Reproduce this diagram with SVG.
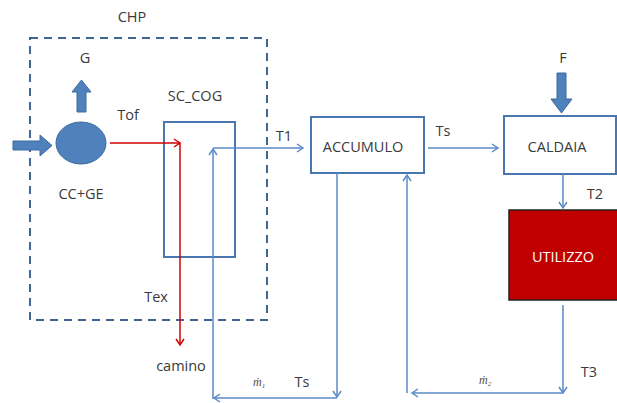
<svg xmlns="http://www.w3.org/2000/svg" width="617" height="403" viewBox="0 0 617 403">
<defs>
<marker id="ab" markerWidth="10" markerHeight="10" refX="8" refY="5" orient="auto" markerUnits="userSpaceOnUse">
<polyline points="2,1 8,5 2,9" fill="none" stroke="#5A8AC8" stroke-width="1.5"/>
</marker>
<marker id="ar" markerWidth="10" markerHeight="10" refX="8" refY="5" orient="auto" markerUnits="userSpaceOnUse">
<polyline points="2,1 8,5 2,9" fill="none" stroke="#D00000" stroke-width="1.5"/>
</marker>
<style>
.t{font-family:"Open Sans","Liberation Sans",sans-serif;font-size:14.5px;fill:#3A3A3A}
.box{fill:#fff;stroke:#4A76B0;stroke-width:2}
.c{fill:none;stroke:#5A8AC8;stroke-width:1.5}
.r{fill:none;stroke:#D00000;stroke-width:1.5}
.blk{fill:#4F81BD;stroke:#3D6A9E;stroke-width:1}
.m{font-family:"Liberation Serif",serif;font-style:italic;font-size:12px;fill:#505050}
</style>
</defs>
<rect width="617" height="403" fill="#fff"/>

<g id="chp">
<rect x="30" y="38" width="237" height="282" fill="none" stroke="#3F6592" stroke-width="2" stroke-dasharray="8,6"/>
<text class="t" x="132" y="22" text-anchor="middle">CHP</text>
</g>

<g id="ccge">
<ellipse cx="81" cy="143" rx="25" ry="21" fill="#4F81BD" stroke="#3D6A9E" stroke-width="1"/>
<text class="t" x="81" y="199" text-anchor="middle">CC+GE</text>
</g>

<g id="input">
<polygon class="blk" points="13,141 40,141 40,135 52,145.5 40,156 40,150 13,150"/>
</g>

<g id="G">
<polygon class="blk" points="77,112 77,92 72,92 81.5,80 91,92 86,92 86,112"/>
<text class="t" x="85" y="63" text-anchor="middle">G</text>
</g>

<g id="sc_cog">
<rect class="box" x="164" y="122" width="71" height="135" fill="none"/>
<text class="t" x="195" y="101" text-anchor="middle">SC_COG</text>
</g>

<g id="accumulo">
<rect class="box" x="311" y="117" width="113" height="56"/>
<text class="t" x="363" y="152" text-anchor="middle">ACCUMULO</text>
</g>

<g id="caldaia">
<rect class="box" x="504" y="116" width="112" height="58"/>
<text class="t" x="557" y="152" text-anchor="middle">CALDAIA</text>
</g>

<g id="F">
<polygon class="blk" points="557,73 566,73 566,99 572,99 561.5,113 551,99 557,99"/>
<text class="t" x="563" y="63" text-anchor="middle">F</text>
</g>

<g id="utilizzo">
<rect x="509" y="210" width="110" height="90" fill="#C00000" stroke="#222" stroke-width="1.5"/>
<text class="t" x="563" y="262" text-anchor="middle" style="fill:#fff">UTILIZZO</text>
</g>

<g id="connectors">
<line class="r" x1="110" y1="143" x2="180" y2="143" marker-end="url(#ar)"/>
<line class="r" x1="180" y1="143" x2="180" y2="345" marker-end="url(#ar)"/>
<line class="c" x1="213" y1="399" x2="213" y2="149" marker-end="url(#ab)"/>
<line class="c" x1="213" y1="148" x2="303" y2="148" marker-end="url(#ab)"/>
<line class="c" x1="428" y1="148" x2="498" y2="148" marker-end="url(#ab)"/>
<line class="c" x1="563" y1="174" x2="563" y2="208" marker-end="url(#ab)"/>
<line class="c" x1="563" y1="305" x2="563" y2="393" marker-end="url(#ab)"/>
<line class="c" x1="563" y1="393" x2="412" y2="393" marker-end="url(#ab)"/>
<line class="c" x1="407" y1="393" x2="407" y2="175" marker-end="url(#ab)"/>
<line class="c" x1="337" y1="173" x2="337" y2="397" marker-end="url(#ab)"/>
<line class="c" x1="337" y1="398" x2="214" y2="398" marker-end="url(#ab)"/>
</g>

<g id="labels">
<text class="t" x="128" y="120" text-anchor="middle">Tof</text>
<text class="t" x="284" y="141" text-anchor="middle">T1</text>
<text class="t" x="443" y="136" text-anchor="middle">Ts</text>
<text class="t" x="595" y="199" text-anchor="middle">T2</text>
<text class="t" x="589" y="377" text-anchor="middle">T3</text>
<text class="t" x="156" y="302" text-anchor="middle">Tex</text>
<text class="t" x="181" y="371" text-anchor="middle">camino</text>
<text class="t" x="302" y="387" text-anchor="middle">Ts</text>
<text class="m" x="253" y="386">ṁ<tspan font-size="7" dy="2">1</tspan></text>
<text class="m" x="479" y="384">ṁ<tspan font-size="7" dy="2">2</tspan></text>
</g>
</svg>
